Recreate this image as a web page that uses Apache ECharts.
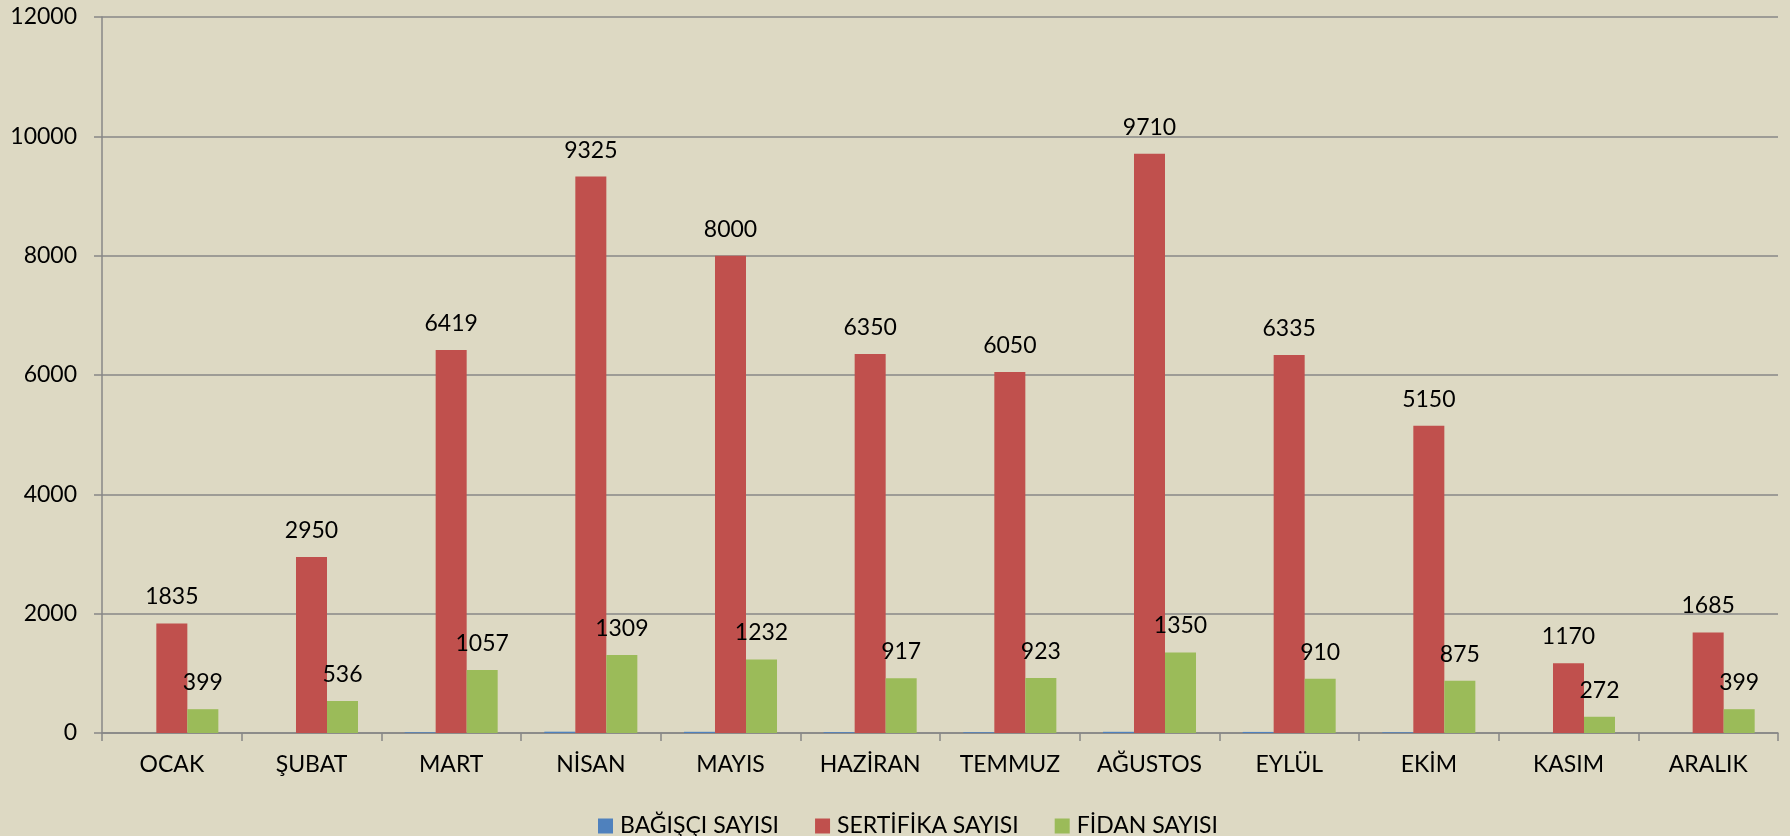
<!DOCTYPE html>
<html>
<head>
<meta charset="utf-8">
<title>Aylık Bağış</title>
<script src="https://cdn.jsdelivr.net/npm/echarts@6/dist/echarts.min.js"></script>
<style>
	html,body{margin:0;padding:0;background:#DDD9C3;}
	#chart_bx{width:1790px;height:836px;}
</style>
</head>
<body>
<div id="chart_bx"></div>
<script>
// aylar
var months = ['OCAK','ŞUBAT','MART','NİSAN','MAYIS','HAZİRAN','TEMMUZ','AĞUSTOS','EYLÜL','EKİM','KASIM','ARALIK'];
// seri değerleri
var bagisci = [0, 0, 12, 22, 20, 14, 13, 20, 18, 12, 0, 0];
var sertifika = [1835, 2950, 6419, 9325, 8000, 6350, 6050, 9710, 6335, 5150, 1170, 1685];
var fidan = [399, 536, 1057, 1309, 1232, 917, 923, 1350, 910, 875, 272, 399];
var seriesNames = ['BAĞIŞÇI SAYISI', 'SERTİFİKA SAYISI', 'FİDAN SAYISI'];

var fontName = 'Lato';

var myChart = echarts.init(document.getElementById('chart_bx'));

var dataLabel = {
	show: true,
	position: 'top',
	distance: 15,
	color: '#000',
	fontFamily: fontName,
	fontSize: 23
};

option = {
	backgroundColor: '#DDD9C3',
	animation: false,
	grid: {left: 102, right: 12, top: 17, bottom: 103},
	legend: {
		left: 593,
		top: 809,
		icon: 'rect',
		itemWidth: 15,
		itemHeight: 15,
		itemGap: 36,
		textStyle: {color: '#000', fontFamily: fontName, fontSize: 23, lineHeight: 24, padding: [0, 0, 0, 2]},
		data: seriesNames
	},
	xAxis: {
		type: 'category',
		data: months,
		axisLine: {lineStyle: {color: '#878787', width: 1.5}},
		axisTick: {show: true, length: 8, lineStyle: {color: '#878787', width: 1.5}},
		axisLabel: {color: '#000', fontFamily: fontName, fontSize: 23, margin: 20}
	},
	yAxis: {
		type: 'value',
		min: 0,
		max: 12000,
		interval: 2000,
		axisLine: {show: true, lineStyle: {color: '#878787', width: 1.5}},
		axisTick: {show: true, length: 8, lineStyle: {color: '#878787', width: 1.5}},
		splitLine: {lineStyle: {color: '#878787', width: 1.5}},
		axisLabel: {
			color: '#000', fontFamily: fontName, fontSize: 23, margin: 25,
			formatter: function(v){ return String(v); }
		}
	},
	series: [
		{
			name: seriesNames[0],
			type: 'bar',
			data: bagisci,
			barGap: 0,
			barCategoryGap: '33.4%',
			itemStyle: {color: '#4F81BD'}
		},
		{
			name: seriesNames[1],
			type: 'bar',
			data: sertifika,
			barGap: 0,
			barCategoryGap: '33.4%',
			itemStyle: {color: '#C0504D'},
			label: dataLabel
		},
		{
			name: seriesNames[2],
			type: 'bar',
			data: fidan,
			barGap: 0,
			barCategoryGap: '33.4%',
			itemStyle: {color: '#9BBB59'},
			label: dataLabel
		}
	]
};

myChart.setOption(option);
</script>
</body>
</html>
